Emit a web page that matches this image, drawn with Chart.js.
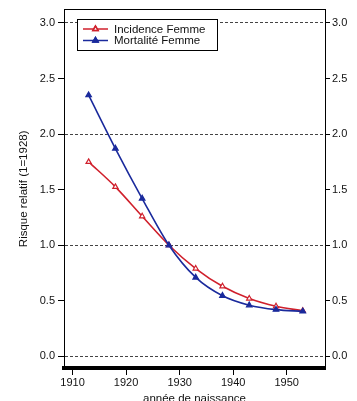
<!DOCTYPE html>
<html>
<head>
<meta charset="utf-8">
<script src="https://cdn.jsdelivr.net/npm/chart.js@4"></script>
<style>
  html, body { margin: 0; padding: 0; background: #fff; }
  #wrap { width: 357px; height: 401px; position: relative; }
</style>
</head>
<body>
<div id="wrap"><canvas id="c" width="357" height="401"></canvas></div>
<script>
const years = [1913, 1918, 1923, 1928, 1933, 1938, 1943, 1948, 1953];
const incidence = [1.75, 1.525, 1.26, 1.0, 0.79, 0.63, 0.52, 0.45, 0.41];
const mortalite = [2.35, 1.87, 1.42, 1.0, 0.71, 0.545, 0.46, 0.42, 0.405];
const seriesNames = ["Incidence Femme", "Mortalité Femme"];
const RED = "#d0202c";
const BLUE = "#1a2a9c";
const FONT = "'Liberation Sans', Arial, Helvetica, sans-serif";

const pts = (ys) => years.map((x, i) => ({ x, y: ys[i] }));

// boxed legend inside the plot, top left
const boxLegend = {
  id: "boxLegend",
  afterDraw(chart) {
    const ctx = chart.ctx;
    const x0 = 77, y0 = 19, w = 140, h = 31;
    ctx.save();
    ctx.fillStyle = "#fff";
    ctx.fillRect(x0, y0, w, h);
    ctx.strokeStyle = "#000";
    ctx.lineWidth = 1;
    ctx.strokeRect(x0 + 0.5, y0 + 0.5, w, h);
    const rows = [
      { ds: chart.data.datasets[0], y: 29 },
      { ds: chart.data.datasets[1], y: 40.5 },
    ];
    rows.forEach(({ ds, y }) => {
      ctx.strokeStyle = ds.borderColor;
      ctx.lineWidth = 1.5;
      ctx.beginPath();
      ctx.moveTo(83, y);
      ctx.lineTo(108, y);
      ctx.stroke();
      Chart.helpers.drawPoint(ctx, {
        pointStyle: "triangle", radius: 3, rotation: 0, borderWidth: 1.2,
      }, 95.5, y);
      ctx.fillStyle = ds.pointBackgroundColor;
      ctx.strokeStyle = ds.borderColor;
      ctx.fill();
      ctx.stroke();
      ctx.fillStyle = "#111";
      ctx.font = "11.5px " + FONT;
      ctx.textBaseline = "middle";
      ctx.fillText(ds.label, 114, y + 0.5);
    });
    ctx.restore();
  },
};

const tickFont = { family: FONT, size: 11 };
const yRange = { min: -0.105, max: 3.12 };

new Chart(document.getElementById("c"), {
  type: "line",
  data: {
    datasets: [
      {
        label: seriesNames[0],
        data: pts(incidence),
        borderColor: RED,
        backgroundColor: RED,
        pointBackgroundColor: "#fff",
        pointBorderColor: RED,
        borderWidth: 1.6,
        pointStyle: "triangle",
        pointRadius: 3,
        pointBorderWidth: 1.2,
        cubicInterpolationMode: "monotone",
        order: 1,
      },
      {
        label: seriesNames[1],
        data: pts(mortalite),
        borderColor: BLUE,
        backgroundColor: BLUE,
        pointBackgroundColor: BLUE,
        pointBorderColor: BLUE,
        borderWidth: 1.6,
        pointStyle: "triangle",
        pointRadius: 3.2,
        pointBorderWidth: 1.2,
        cubicInterpolationMode: "monotone",
        order: 0,
      },
    ],
  },
  options: {
    responsive: false,
    animation: false,
    layout: { padding: 0 },
    plugins: { legend: { display: false }, tooltip: { enabled: false } },
    scales: {
      x: {
        type: "linear",
        position: "bottom",
        min: 1908.4,
        max: 1957.15,
        afterFit: (s) => { s.height = 33; },
        ticks: {
          stepSize: 10, includeBounds: false, color: "#111", font: tickFont, padding: 1,
          callback: (v) => String(v),
        },
        grid: { drawOnChartArea: false, tickLength: 7, tickColor: "#000", tickWidth: 1 },
        border: { color: "#000", width: 4 },
        title: {
          display: true, text: "année de naissance", color: "#111",
          font: { family: FONT, size: 11.5 }, padding: { top: 0, bottom: -5 },
        },
      },
      xTop: {
        type: "linear",
        position: "top",
        min: 1908.4,
        max: 1957.15,
        afterFit: (s) => { s.height = 9; },
        ticks: { display: false },
        grid: { drawOnChartArea: false, drawTicks: false },
        border: { color: "#000", width: 1 },
      },
      y: {
        position: "left",
        ...yRange,
        afterFit: (s) => { s.width = 64; },
        ticks: {
          stepSize: 0.5, includeBounds: false, color: "#111", font: tickFont, padding: 3,
          callback: (v) => v.toFixed(1),
        },
        grid: {
          color: (c) => (Math.abs(c.tick.value - Math.round(c.tick.value)) < 1e-6 ? "#444" : "rgba(0,0,0,0)"),
          lineWidth: 1,
          tickColor: "#000",
          tickLength: 6,
          tickBorderDash: [],
        },
        border: { color: "#000", width: 1, dash: [3, 2] },
        title: {
          display: true, text: "Risque relatif (1=1928)", color: "#111",
          font: { family: FONT, size: 11.5 }, padding: { top: 17, bottom: 0 },
        },
      },
      y2: {
        position: "right",
        ...yRange,
        afterFit: (s) => { s.width = 32; },
        ticks: {
          stepSize: 0.5, includeBounds: false, color: "#111", font: tickFont, padding: 2,
          callback: (v) => v.toFixed(1),
        },
        grid: { drawOnChartArea: false, tickColor: "#000", tickLength: 5 },
        border: { color: "#000", width: 1 },
      },
    },
  },
  plugins: [boxLegend],
});
</script>
</body>
</html>
